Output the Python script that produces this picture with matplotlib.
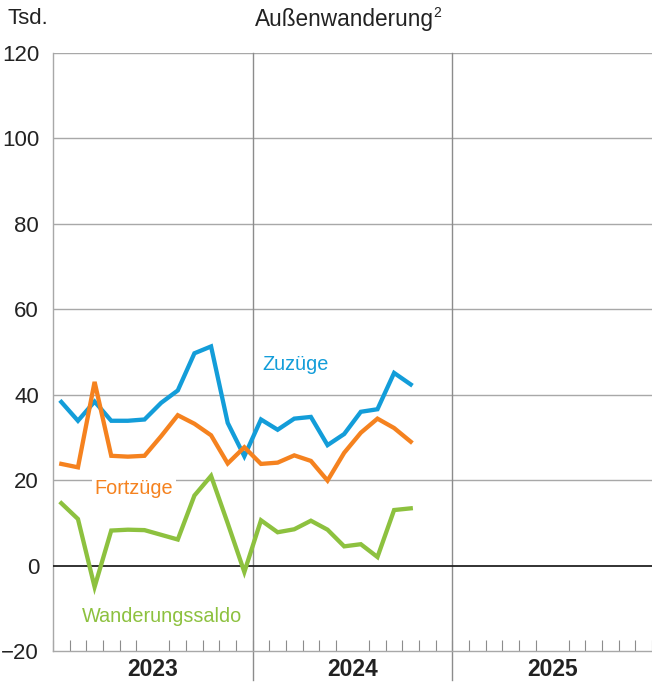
import matplotlib
matplotlib.use("Agg")
import numpy as np
from matplotlib import pyplot as plt
from matplotlib.lines import Line2D

plt.rcParams["font.family"] = ["Liberation Sans", "DejaVu Sans"]

# Monthly values in thousands, Jan 2023 - Oct 2024
zuzuege = [38.3, 33.9, 38.4, 33.9, 33.9, 34.2, 38.1, 41.0, 49.7, 51.3, 33.4, 25.6,
           34.2, 31.8, 34.4, 34.8, 28.2, 30.8, 36.0, 36.6, 45.1, 42.4]
fortzuege = [23.8, 23.0, 43.0, 25.7, 25.5, 25.7, 30.3, 35.2, 33.2, 30.5, 23.9, 27.7,
             23.8, 24.1, 25.8, 24.5, 19.9, 26.4, 31.1, 34.4, 32.2, 29.0]
saldo = [14.6, 10.9, -5.0, 8.2, 8.4, 8.3, 7.2, 6.1, 16.4, 21.0, 9.9, -1.5,
         10.6, 7.8, 8.5, 10.5, 8.4, 4.5, 5.0, 2.0, 13.0, 13.4]
years = ["2023", "2024", "2025"]
yticks = [-20, 0, 20, 40, 60, 80, 100, 120]

BLUE = "#139dd9"
ORANGE = "#f5821f"
GREEN = "#8dc13f"
GRID = "#a8a8a8"
TEXT = "#222222"
LW = 3.1
TICK_FONTSIZE = 16
LABEL_FONTSIZE = 14.3

fig = plt.figure(figsize=(6.52, 6.85), dpi=100)
ax = fig.add_axes([53 / 652, 1 - 651 / 685, 599 / 652, 598 / 685])

n_months = 12 * len(years)
x = np.arange(len(zuzuege)) + 0.5

ax.plot(x, zuzuege, color=BLUE, lw=LW, solid_joinstyle="miter", zorder=4)
ax.plot(x, fortzuege, color=ORANGE, lw=LW, solid_joinstyle="miter", zorder=5)
ax.plot(x, saldo, color=GREEN, lw=LW, solid_joinstyle="miter", zorder=4)

ax.set_xlim(0, n_months)
ax.set_ylim(-20, 120)

# Horizontal grid and zero line
for yv in yticks[2:]:
    ax.axhline(yv, color=GRID, lw=1.0, zorder=1)
ax.axhline(0, color=TEXT, lw=1.3, zorder=3)

# Year separators, running down through the year label row
for i in range(1, len(years)):
    ax.add_line(Line2D([12 * i, 12 * i], [-26.8, 120], color="#8c8c8c", lw=1.0,
                       zorder=1, clip_on=False))

for side in ("top", "right"):
    ax.spines[side].set_visible(False)
for side in ("left", "bottom"):
    ax.spines[side].set_color(GRID)
    ax.spines[side].set_linewidth(1.0)

ax.set_yticks(yticks)
ax.set_yticklabels(["\u221220" if v < 0 else str(v) for v in yticks], fontsize=TICK_FONTSIZE)
ax.tick_params(axis="y", length=0, pad=10, colors=TEXT)

# Month ticks inside the bottom edge, year labels centred below
ax.set_xticks(np.arange(0, n_months + 1), minor=True)
ax.tick_params(axis="x", which="minor", direction="in", length=8, width=0.8, color="#8c8c8c")
ax.set_xticks([6 + 12 * i for i in range(len(years))])
ax.set_xticklabels(years, fontsize=16.5, fontweight="bold")
ax.tick_params(axis="x", which="major", length=0, pad=5, colors=TEXT)

# Series labels
ax.text(12.6, 47.0, "Zuzüge", color=BLUE, fontsize=LABEL_FONTSIZE, va="center", ha="left", zorder=6)
ax.text(2.5, 18.0, "Fortzüge", color=ORANGE, fontsize=LABEL_FONTSIZE, va="center", ha="left", zorder=6,
        bbox=dict(facecolor="white", edgecolor="none", pad=2))
ax.text(1.75, -12.0, "Wanderungssaldo", color=GREEN, fontsize=LABEL_FONTSIZE, va="center", ha="left",
        zorder=6)

fig.text(8 / 652, 1 - 18 / 685, "Tsd.", fontsize=TICK_FONTSIZE, va="center", ha="left", color=TEXT)
fig.text(255 / 652, 1 - 26 / 685, "Außenwanderung", fontsize=16.3, va="baseline", ha="left", color=TEXT)
fig.text(433 / 652, 1 - 17 / 685, "2", fontsize=10, va="baseline", ha="left", color=TEXT)

fig.savefig("out.png", dpi=100)
